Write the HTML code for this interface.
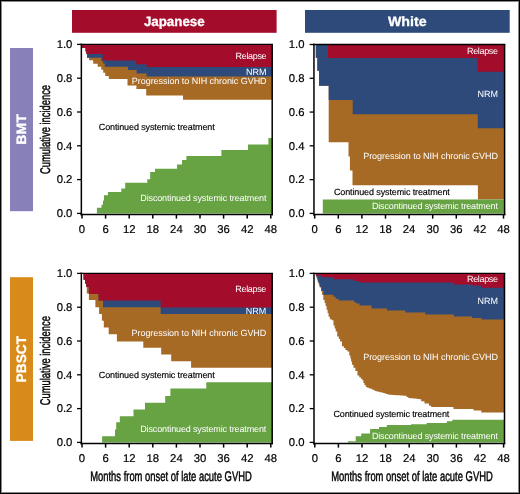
<!DOCTYPE html>
<html><head><meta charset="utf-8"><title>Cumulative incidence</title>
<style>
html,body{margin:0;padding:0;background:#fff;}
body{width:520px;height:494px;overflow:hidden;position:relative;}
svg{position:absolute;left:0;top:0;display:block;will-change:transform;}
text{font-family:"Liberation Sans", sans-serif;text-rendering:geometricPrecision;}
.lab{font-size:9.0px;stroke-width:0.15px;}
.tick{font-size:11.3px;fill:#000;stroke:#000;stroke-width:0.2px;}
.hdr{font-size:13.6px;font-weight:bold;fill:#fff;stroke:#fff;stroke-width:0.3px;}
.row{font-size:13.6px;font-weight:bold;fill:#fff;stroke:#fff;stroke-width:0.3px;}
.ttl{font-size:14px;fill:#000;stroke:#000;stroke-width:0.45px;}
.frame{position:absolute;left:0;top:0;width:520px;height:494px;box-sizing:border-box;border:1px solid #000;box-shadow:inset 0 0 0 1px #8a8a8a;}
</style></head>
<body>
<svg width="520" height="494" viewBox="0 0 520 494">
<rect width="520" height="494" fill="#fff"/>
<rect x="72" y="10" width="204.6" height="22.8" fill="#a30d2b"/>
<text x="174.3" y="25.6" text-anchor="middle" class="hdr" textLength="60.8" lengthAdjust="spacingAndGlyphs">Japanese</text>
<rect x="305" y="10" width="204.7" height="22.8" fill="#2e4a7a"/>
<text x="407.3" y="25.6" text-anchor="middle" class="hdr" textLength="38.8" lengthAdjust="spacingAndGlyphs">White</text>
<rect x="10" y="48" width="23" height="163.2" fill="#8880b8"/>
<text transform="translate(25.6,129.5) rotate(-90)" text-anchor="middle" class="row" textLength="30.6" lengthAdjust="spacingAndGlyphs">BMT</text>
<rect x="10" y="277.2" width="23" height="163.7" fill="#d88b1a"/>
<text transform="translate(25.7,359.2) rotate(-90)" text-anchor="middle" class="row" textLength="46.4" lengthAdjust="spacingAndGlyphs">PBSCT</text>
<text transform="translate(49.6,129.5) rotate(-90) scale(0.67,1)" text-anchor="middle" class="ttl">Cumulative incidence</text>
<text transform="translate(49.6,360.7) rotate(-90) scale(0.67,1)" text-anchor="middle" class="ttl">Cumulative incidence</text>
<path fill="#a66a25" d="M81.35,44.4H81.6V48H85.6V51.6H86.4V54.1H87V57.7H89.1V60.2H93.2V63.8H97.7V66.8H101.3V69.8H103.2V72.8H105.3V76H108.8V78.9H127.5V85.4H136.4V89H146.2V95.6H183V99.7H272.2V44.4Z"/>
<path fill="#2e4a7a" d="M81.35,44.4H81.6V48H85.6V51.6H86.4V54.1H87V57.7H101.3V61H103V63.5H104.8V66.7H128V70H136.6V73.5H146.5V76.6H272.2V44.4Z"/>
<text x="266.6" y="75.1" text-anchor="end" fill="#fff" class="lab">NRM</text>
<path fill="#a30d2b" d="M81.35,44.4H81.6V48H85.6V51.6H86.4V54.1H102.8V60.6H136.2V64.3H146.5V67.1H272.2V44.4Z"/>
<path fill="#67a343" d="M81.35,213.4H96.9V207.7H101.5V204.8H103V200.5H104V195.2H107.9V191.9H121.3V188.5H125.2V182.7H147.3V179.2H150.2V172.1H155V168.7H177V164.4H182V160H186.4V156H221.4V150H248V144.4H268.4V138H272.2V213.4Z"/>
<text x="266.6" y="58.9" text-anchor="end" fill="#fff" stroke="none" class="lab" textLength="31" lengthAdjust="spacing">Relapse</text>
<text x="266.6" y="84.3" text-anchor="end" fill="#fff" stroke="none" class="lab" textLength="134.8" lengthAdjust="spacing">Progression to NIH chronic GVHD</text>
<text x="98.8" y="130" text-anchor="start" fill="#000" stroke="#000" class="lab" textLength="115.9" lengthAdjust="spacing">Continued systemic treatment</text>
<text x="266.4" y="201.3" text-anchor="end" fill="#fff" stroke="none" class="lab" textLength="126.1" lengthAdjust="spacing">Discontinued systemic treatment</text>
<path fill="#a66a25" d="M313.95,44.5H315.8V57.7H317.3V70.8H319V85.8H328.7V142.3H348.5V156.4H349.9V170.6H352.5V185.2H477.9V199.6H504.6V44.5Z"/>
<path fill="#2e4a7a" d="M313.95,44.5H315.8V57.7H317.3V70.8H319V85.8H328.7V100H352.7V114.2H477.8V128.3H504.6V44.5Z"/>
<text x="498" y="96.7" text-anchor="end" fill="#fff" class="lab">NRM</text>
<path fill="#a30d2b" d="M313.95,44.5H327.9V57.9H477.8V71.7H504.6V44.5Z"/>
<path fill="#67a343" d="M313.95,213.4H322.8V199.6H504.6V213.4Z"/>
<text x="498" y="53.7" text-anchor="end" fill="#fff" stroke="none" class="lab" textLength="31" lengthAdjust="spacing">Relapse</text>
<text x="498" y="158.5" text-anchor="end" fill="#fff" stroke="none" class="lab" textLength="134.8" lengthAdjust="spacing">Progression to NIH chronic GVHD</text>
<text x="333.9" y="194.9" text-anchor="start" fill="#000" stroke="#000" class="lab" textLength="115.9" lengthAdjust="spacing">Continued systemic treatment</text>
<text x="498" y="209.4" text-anchor="end" fill="#fff" stroke="none" class="lab" textLength="126.1" lengthAdjust="spacing">Discontinued systemic treatment</text>
<path fill="#a66a25" d="M81.35,273.4H83.6V279.7H85V283.5H86.3V287H86.8V293.5H88.9V300H95.4V307.2H99.1V314H101.9V320.8H103.8V327.5H108.7V334.2H116.9V341.5H143.3V347.7H161.2V354.4H171.2V361.2H191.1V367.8H272.2V273.4Z"/>
<path fill="#2e4a7a" d="M81.35,273.4H83.6V279.7H85V283.5H86.3V287H88.9V294H98.6V300.5H103V307.3H160.6V314H272.2V273.4Z"/>
<text x="266.3" y="313.7" text-anchor="end" fill="#fff" class="lab">NRM</text>
<path fill="#a30d2b" d="M81.35,273.4H83.6V279.7H85V283.5H86.3V287H88.9V294H98.6V300.5H160.6V307.5H272.2V273.4Z"/>
<path fill="#67a343" d="M81.35,442.4H102.1V436.3H115V429.6H116.2V422.3H119.8V416.2H133.5V409.4H145V402.7H165.2V396H170.4V388.6H206.3V382.2H272.2V442.4Z"/>
<text x="266.3" y="292.2" text-anchor="end" fill="#fff" stroke="none" class="lab" textLength="31" lengthAdjust="spacing">Relapse</text>
<text x="266.3" y="335.8" text-anchor="end" fill="#fff" stroke="none" class="lab" textLength="134.8" lengthAdjust="spacing">Progression to NIH chronic GVHD</text>
<text x="98.8" y="378" text-anchor="start" fill="#000" stroke="#000" class="lab" textLength="115.9" lengthAdjust="spacing">Continued systemic treatment</text>
<text x="266.3" y="431.6" text-anchor="end" fill="#fff" stroke="none" class="lab" textLength="126.1" lengthAdjust="spacing">Discontinued systemic treatment</text>
<path fill="#a66a25" d="M314,273.4H315.2V274H315.6V275.2H316H316.5V278.35H317.5V281.5H318H318.62V284.5H319.88V287.5H320.5H321.02V291.25H322.08V295H322.6H323.35V300.1H324.1H324.6V303.1H325.6V306.1H326.1H326.6V309.65H327.6V313.2H328.1H328.6V316.8H329.1H329.9V319.3H330.7H331.7V320.3H332.7H333.45V325.4H334.2H334.7V328.4H335.7V331.4H336.2H337.2V336.5H338.2H338.85V339.05H340.15V341.6H340.8H341.95V346.2H343.1H343.88V348.1H345.43V350H346.2H347.35V351.5H348.5H349.25V355.4H350H350.38V358.45H351.12V361.5H351.5H351.95V364.8H352.4H353.4V367.85H355.4V370.9H356.4H357.45V375.6H358.5H359.27V377.13H360.8V378.67H362.33V380.2H363.1H363.4V383.1H363.7H364.4V385.1H365.8V387.1H366.5H367.27V387.67H368.8V388.23H370.33V388.8H371.1H371.88V389.57H373.45V390.33H375.02V391.1H375.8H376.6V391.46H378.2V391.82H379.8V392.18H381.4V392.54H383V392.9H383.8H384.57V393.47H386.1V394.03H387.63V394.6H388.4H389.19V394.71H390.76V394.82H392.33V394.93H393.9V395.04H395.48V395.15H397.05V395.25H398.62V395.36H400.2V395.47H401.77V395.58H403.34V395.69H404.91V395.8H405.7H406.57V396.95H408.32V398.1H409.2H409.93V398.23H411.38V398.35H412.82V398.48H414.27V398.6H415H415.83V398.8H417.5V399H419.17V399.2H420H421.2V401.2H424.5V403.5H429V405.7H431.2V407H453.5V409H473.5V410.6H481.3V412.6H504.5V273.4Z"/>
<path fill="#2e4a7a" d="M314,273.4H315.4V274.3H316.15V276.5H316.9H317.3V279.5H318.1V282.5H318.5H319.48V286.65H321.42V290.8H322.4H323.55V294.8H324.7H333.3V296.8H335.6V298.8H338.5V300.4H354.1V302.3H356.4V303.6H359.5V305.4H371.5V308.4H387V310.4H405.3V312.4H425.4V314.5H453.9V316.6H471.9V318.1H481.4V319.4H504.5V273.4Z"/>
<text x="498" y="304.4" text-anchor="end" fill="#fff" class="lab">NRM</text>
<path fill="#a30d2b" d="M314,273.4H315.8V275.6H321.2V277.2H333.9V279.2H354.1V281H359.9V282.5H453.9V284.5H471.9V285.5H481.4V287.7H504.5V273.4Z"/>
<path fill="#67a343" d="M314,442.4H347.9V441.3H355.7V436.2H361.2V433.5H370.1V429.1H379V426.9H386.8V425.1H411.1V424.2H426.7V422.9H446.8V421.3H452.3V419.7H504.5V442.4Z"/>
<text x="498" y="282.4" text-anchor="end" fill="#fff" stroke="none" class="lab" textLength="31" lengthAdjust="spacing">Relapse</text>
<text x="498" y="360" text-anchor="end" fill="#fff" stroke="none" class="lab" textLength="134.8" lengthAdjust="spacing">Progression to NIH chronic GVHD</text>
<text x="333.4" y="416.8" text-anchor="start" fill="#000" stroke="#000" class="lab" textLength="115.9" lengthAdjust="spacing">Continued systemic treatment</text>
<text x="498" y="439" text-anchor="end" fill="#fff" stroke="none" class="lab" textLength="126.1" lengthAdjust="spacing">Discontinued systemic treatment</text>
<path d="M81.35,43.65V215.4" stroke="#000" stroke-width="1.5" fill="none"/>
<path d="M80.6,44.4H272.95" stroke="#000" stroke-width="1.3" fill="none"/>
<path d="M272.2,44.4V215.2" stroke="#000" stroke-width="1.5" fill="none"/>
<path d="M80.6,214.5H272.95" stroke="#000" stroke-width="1.5" fill="none"/>
<path d="M77.05,44.4H81.35" stroke="#000" stroke-width="1.3"/>
<text x="72.4" y="48.2" text-anchor="end" class="tick">1.0</text>
<path d="M77.05,78.2H81.35" stroke="#000" stroke-width="1.3"/>
<text x="72.4" y="82" text-anchor="end" class="tick">0.8</text>
<path d="M77.05,112H81.35" stroke="#000" stroke-width="1.3"/>
<text x="72.4" y="115.8" text-anchor="end" class="tick">0.6</text>
<path d="M77.05,145.8H81.35" stroke="#000" stroke-width="1.3"/>
<text x="72.4" y="149.6" text-anchor="end" class="tick">0.4</text>
<path d="M77.05,179.6H81.35" stroke="#000" stroke-width="1.3"/>
<text x="72.4" y="183.4" text-anchor="end" class="tick">0.2</text>
<path d="M77.05,213.4H81.35" stroke="#000" stroke-width="1.3"/>
<text x="72.4" y="217.2" text-anchor="end" class="tick">0.0</text>
<path d="M82,214.4V218.6" stroke="#000" stroke-width="1.5"/>
<text x="82" y="233" text-anchor="middle" class="tick">0</text>
<path d="M105.6,214.4V218.6" stroke="#000" stroke-width="1.5"/>
<text x="105.6" y="233" text-anchor="middle" class="tick">6</text>
<path d="M129.2,214.4V218.6" stroke="#000" stroke-width="1.5"/>
<text x="129.2" y="233" text-anchor="middle" class="tick">12</text>
<path d="M152.8,214.4V218.6" stroke="#000" stroke-width="1.5"/>
<text x="152.8" y="233" text-anchor="middle" class="tick">18</text>
<path d="M176.4,214.4V218.6" stroke="#000" stroke-width="1.5"/>
<text x="176.4" y="233" text-anchor="middle" class="tick">24</text>
<path d="M200,214.4V218.6" stroke="#000" stroke-width="1.5"/>
<text x="200" y="233" text-anchor="middle" class="tick">30</text>
<path d="M223.6,214.4V218.6" stroke="#000" stroke-width="1.5"/>
<text x="223.6" y="233" text-anchor="middle" class="tick">36</text>
<path d="M247.2,214.4V218.6" stroke="#000" stroke-width="1.5"/>
<text x="247.2" y="233" text-anchor="middle" class="tick">42</text>
<path d="M270.8,214.4V218.6" stroke="#000" stroke-width="1.5"/>
<text x="270.8" y="233" text-anchor="middle" class="tick">48</text>
<path d="M313.95,43.75V215.4" stroke="#000" stroke-width="1.5" fill="none"/>
<path d="M313.2,44.5H505.35" stroke="#000" stroke-width="1.3" fill="none"/>
<path d="M504.6,44.5V215.2" stroke="#000" stroke-width="1.5" fill="none"/>
<path d="M313.2,214.5H505.35" stroke="#000" stroke-width="1.5" fill="none"/>
<path d="M309.65,44.5H313.95" stroke="#000" stroke-width="1.3"/>
<text x="304.5" y="48.3" text-anchor="end" class="tick">1.0</text>
<path d="M309.65,78.28H313.95" stroke="#000" stroke-width="1.3"/>
<text x="304.5" y="82.08" text-anchor="end" class="tick">0.8</text>
<path d="M309.65,112.06H313.95" stroke="#000" stroke-width="1.3"/>
<text x="304.5" y="115.86" text-anchor="end" class="tick">0.6</text>
<path d="M309.65,145.84H313.95" stroke="#000" stroke-width="1.3"/>
<text x="304.5" y="149.64" text-anchor="end" class="tick">0.4</text>
<path d="M309.65,179.62H313.95" stroke="#000" stroke-width="1.3"/>
<text x="304.5" y="183.42" text-anchor="end" class="tick">0.2</text>
<path d="M309.65,213.4H313.95" stroke="#000" stroke-width="1.3"/>
<text x="304.5" y="217.2" text-anchor="end" class="tick">0.0</text>
<path d="M314.7,214.4V218.6" stroke="#000" stroke-width="1.5"/>
<text x="314.7" y="233" text-anchor="middle" class="tick">0</text>
<path d="M338.3,214.4V218.6" stroke="#000" stroke-width="1.5"/>
<text x="338.3" y="233" text-anchor="middle" class="tick">6</text>
<path d="M361.9,214.4V218.6" stroke="#000" stroke-width="1.5"/>
<text x="361.9" y="233" text-anchor="middle" class="tick">12</text>
<path d="M385.5,214.4V218.6" stroke="#000" stroke-width="1.5"/>
<text x="385.5" y="233" text-anchor="middle" class="tick">18</text>
<path d="M409.1,214.4V218.6" stroke="#000" stroke-width="1.5"/>
<text x="409.1" y="233" text-anchor="middle" class="tick">24</text>
<path d="M432.7,214.4V218.6" stroke="#000" stroke-width="1.5"/>
<text x="432.7" y="233" text-anchor="middle" class="tick">30</text>
<path d="M456.3,214.4V218.6" stroke="#000" stroke-width="1.5"/>
<text x="456.3" y="233" text-anchor="middle" class="tick">36</text>
<path d="M479.9,214.4V218.6" stroke="#000" stroke-width="1.5"/>
<text x="479.9" y="233" text-anchor="middle" class="tick">42</text>
<path d="M503.5,214.4V218.6" stroke="#000" stroke-width="1.5"/>
<text x="503.5" y="233" text-anchor="middle" class="tick">48</text>
<path d="M81.35,272.65V444.4" stroke="#000" stroke-width="1.5" fill="none"/>
<path d="M80.6,273.4H272.95" stroke="#000" stroke-width="1.3" fill="none"/>
<path d="M272.2,273.4V444.2" stroke="#000" stroke-width="1.5" fill="none"/>
<path d="M80.6,443.5H272.95" stroke="#000" stroke-width="1.5" fill="none"/>
<path d="M77.05,273.4H81.35" stroke="#000" stroke-width="1.3"/>
<text x="72.4" y="277.2" text-anchor="end" class="tick">1.0</text>
<path d="M77.05,307.2H81.35" stroke="#000" stroke-width="1.3"/>
<text x="72.4" y="311" text-anchor="end" class="tick">0.8</text>
<path d="M77.05,341H81.35" stroke="#000" stroke-width="1.3"/>
<text x="72.4" y="344.8" text-anchor="end" class="tick">0.6</text>
<path d="M77.05,374.8H81.35" stroke="#000" stroke-width="1.3"/>
<text x="72.4" y="378.6" text-anchor="end" class="tick">0.4</text>
<path d="M77.05,408.6H81.35" stroke="#000" stroke-width="1.3"/>
<text x="72.4" y="412.4" text-anchor="end" class="tick">0.2</text>
<path d="M77.05,442.4H81.35" stroke="#000" stroke-width="1.3"/>
<text x="72.4" y="446.2" text-anchor="end" class="tick">0.0</text>
<path d="M82,443.4V447.6" stroke="#000" stroke-width="1.5"/>
<text x="82" y="462" text-anchor="middle" class="tick">0</text>
<path d="M105.6,443.4V447.6" stroke="#000" stroke-width="1.5"/>
<text x="105.6" y="462" text-anchor="middle" class="tick">6</text>
<path d="M129.2,443.4V447.6" stroke="#000" stroke-width="1.5"/>
<text x="129.2" y="462" text-anchor="middle" class="tick">12</text>
<path d="M152.8,443.4V447.6" stroke="#000" stroke-width="1.5"/>
<text x="152.8" y="462" text-anchor="middle" class="tick">18</text>
<path d="M176.4,443.4V447.6" stroke="#000" stroke-width="1.5"/>
<text x="176.4" y="462" text-anchor="middle" class="tick">24</text>
<path d="M200,443.4V447.6" stroke="#000" stroke-width="1.5"/>
<text x="200" y="462" text-anchor="middle" class="tick">30</text>
<path d="M223.6,443.4V447.6" stroke="#000" stroke-width="1.5"/>
<text x="223.6" y="462" text-anchor="middle" class="tick">36</text>
<path d="M247.2,443.4V447.6" stroke="#000" stroke-width="1.5"/>
<text x="247.2" y="462" text-anchor="middle" class="tick">42</text>
<path d="M270.8,443.4V447.6" stroke="#000" stroke-width="1.5"/>
<text x="270.8" y="462" text-anchor="middle" class="tick">48</text>
<path d="M314,272.65V444.4" stroke="#000" stroke-width="1.5" fill="none"/>
<path d="M313.25,273.4H505.25" stroke="#000" stroke-width="1.3" fill="none"/>
<path d="M504.5,273.4V444.2" stroke="#000" stroke-width="1.5" fill="none"/>
<path d="M313.25,443.5H505.25" stroke="#000" stroke-width="1.5" fill="none"/>
<path d="M309.7,273.4H314" stroke="#000" stroke-width="1.3"/>
<text x="304.5" y="277.2" text-anchor="end" class="tick">1.0</text>
<path d="M309.7,307.2H314" stroke="#000" stroke-width="1.3"/>
<text x="304.5" y="311" text-anchor="end" class="tick">0.8</text>
<path d="M309.7,341H314" stroke="#000" stroke-width="1.3"/>
<text x="304.5" y="344.8" text-anchor="end" class="tick">0.6</text>
<path d="M309.7,374.8H314" stroke="#000" stroke-width="1.3"/>
<text x="304.5" y="378.6" text-anchor="end" class="tick">0.4</text>
<path d="M309.7,408.6H314" stroke="#000" stroke-width="1.3"/>
<text x="304.5" y="412.4" text-anchor="end" class="tick">0.2</text>
<path d="M309.7,442.4H314" stroke="#000" stroke-width="1.3"/>
<text x="304.5" y="446.2" text-anchor="end" class="tick">0.0</text>
<path d="M314.8,443.4V447.6" stroke="#000" stroke-width="1.5"/>
<text x="314.8" y="462" text-anchor="middle" class="tick">0</text>
<path d="M338.4,443.4V447.6" stroke="#000" stroke-width="1.5"/>
<text x="338.4" y="462" text-anchor="middle" class="tick">6</text>
<path d="M362,443.4V447.6" stroke="#000" stroke-width="1.5"/>
<text x="362" y="462" text-anchor="middle" class="tick">12</text>
<path d="M385.6,443.4V447.6" stroke="#000" stroke-width="1.5"/>
<text x="385.6" y="462" text-anchor="middle" class="tick">18</text>
<path d="M409.2,443.4V447.6" stroke="#000" stroke-width="1.5"/>
<text x="409.2" y="462" text-anchor="middle" class="tick">24</text>
<path d="M432.8,443.4V447.6" stroke="#000" stroke-width="1.5"/>
<text x="432.8" y="462" text-anchor="middle" class="tick">30</text>
<path d="M456.4,443.4V447.6" stroke="#000" stroke-width="1.5"/>
<text x="456.4" y="462" text-anchor="middle" class="tick">36</text>
<path d="M480,443.4V447.6" stroke="#000" stroke-width="1.5"/>
<text x="480" y="462" text-anchor="middle" class="tick">42</text>
<path d="M503.6,443.4V447.6" stroke="#000" stroke-width="1.5"/>
<text x="503.6" y="462" text-anchor="middle" class="tick">48</text>
<text transform="translate(170.95,480.7) scale(0.672,1)" text-anchor="middle" class="ttl">Months from onset of late acute GVHD</text>
<text transform="translate(411.95,480.7) scale(0.672,1)" text-anchor="middle" class="ttl">Months from onset of late acute GVHD</text>
</svg>
<div class="frame"></div>
</body></html>
